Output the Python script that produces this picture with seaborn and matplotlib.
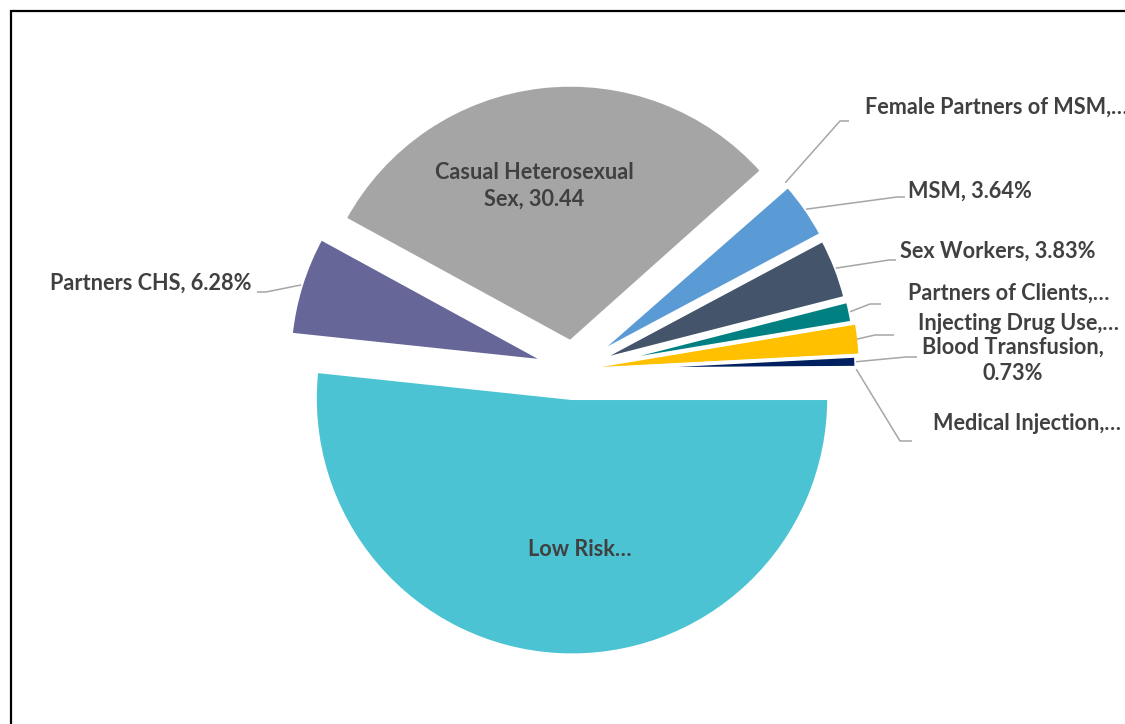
import numpy as np
import matplotlib
matplotlib.use("Agg")
import matplotlib.pyplot as plt
import seaborn as sns
from matplotlib.patches import Rectangle

# Share of cases by risk category (percent)
categories = ["Low Risk", "Partners CHS", "Casual Heterosexual Sex",
              "Female Partners of MSM", "MSM", "Sex Workers",
              "Partners of Clients", "Injecting Drug Use",
              "Blood Transfusion", "Medical Injection"]
shares = [51.68, 6.28, 30.44, 0.15, 3.64, 3.83, 1.35, 1.80, 0.73, 0.10]
label_texts = ["Low Risk…", "Partners CHS, 6.28%", "Casual Heterosexual\nSex, 30.44",
               "Female Partners of MSM,…", "MSM, 3.64%", "Sex Workers, 3.83%",
               "Partners of Clients,…", "Injecting Drug Use,…",
               "Blood Transfusion,\n0.73%", "Medical Injection,…"]
slice_colors = ["#4BC3D3", "#666699", "#A5A5A5", "#ED7D31", "#5B9BD5",
                "#44546A", "#008080", "#FFC000", "#002060", "#7F7F7F"]

W, H = 1125, 724
sns.set_theme(style="white")
plt.rcParams["font.family"] = ["Lato", "DejaVu Sans"]

fig = plt.figure(figsize=(W / 100, H / 100), dpi=100)
ax = fig.add_axes([0, 0, 1, 1])

R = 257
cx, cy = 573.5, H - 370
explode_frac = [0.11, 0.11, 0.11, 0.10, 0.10, 0.095, 0.10, 0.11, 0.10, 0.10]
explode = [f * R for f in explode_frac]

wedges, _ = ax.pie(shares, explode=explode, colors=slice_colors, startangle=0,
                   counterclock=False, radius=R, center=(cx, cy),
                   wedgeprops=dict(edgecolor="white", linewidth=2.6))
wedges[categories.index("Injecting Drug Use")].set_linewidth(0)

ax.set_xlim(0, W)
ax.set_ylim(0, H)
ax.set_aspect("equal")
ax.axis("off")

txt_color = "#404040"
line_color = "#A6A6A6"
fs = 15.6

def img(x, y):
    return x, H - y

# labels placed inside their slices
ax.text(*img(580, 549), label_texts[0], ha="center", va="center",
        fontsize=fs, fontweight="bold", color=txt_color)
ax.text(*img(534, 186), label_texts[2], ha="center", va="center",
        fontsize=fs, fontweight="bold", color=txt_color, linespacing=1.3)

# outside labels: (index, elbow, end of leader, text anchor, ha)
outside = [
    (1, (266, 292), (257, 292), (252, 283), "right"),
    (3, (840, 121), (849, 121), (865, 107), "left"),
    (4, (897, 197), (905, 197), (908, 191), "left"),
    (5, (889, 260), (896, 260), (900, 251), "left"),
    (6, (870, 304), (881, 304), (908, 293), "left"),
    (7, (875, 335), (894, 335), (918, 323), "left"),
    (8, (906, 357), (917, 357), (1013, 360), "center"),
    (9, (900, 441), (912, 441), (933, 424), "left"),
]
for i, elbow, end, anchor, ha in outside:
    w = wedges[i]
    mid = np.deg2rad(0.5 * (w.theta1 + w.theta2))
    sx = w.center[0] + w.r * np.cos(mid)
    sy = w.center[1] + w.r * np.sin(mid)
    ex, ey = img(*elbow)
    fx, fy = img(*end)
    ax.plot([sx, ex, fx], [sy, ey, fy], color=line_color, lw=1.1,
            solid_capstyle="butt", zorder=1)
    ax.text(*img(*anchor), label_texts[i], ha=ha, va="center", fontsize=fs,
            fontweight="bold", color=txt_color, linespacing=1.3,
            multialignment="center")

# chart border running off the right and bottom edges
fig.patches.append(Rectangle((11 / W, -0.1), 1.2, 1 - 11 / H + 0.1,
                             transform=fig.transFigure, fill=False,
                             edgecolor="black", linewidth=1.6))

fig.savefig("out.png", dpi=100, facecolor="white")
